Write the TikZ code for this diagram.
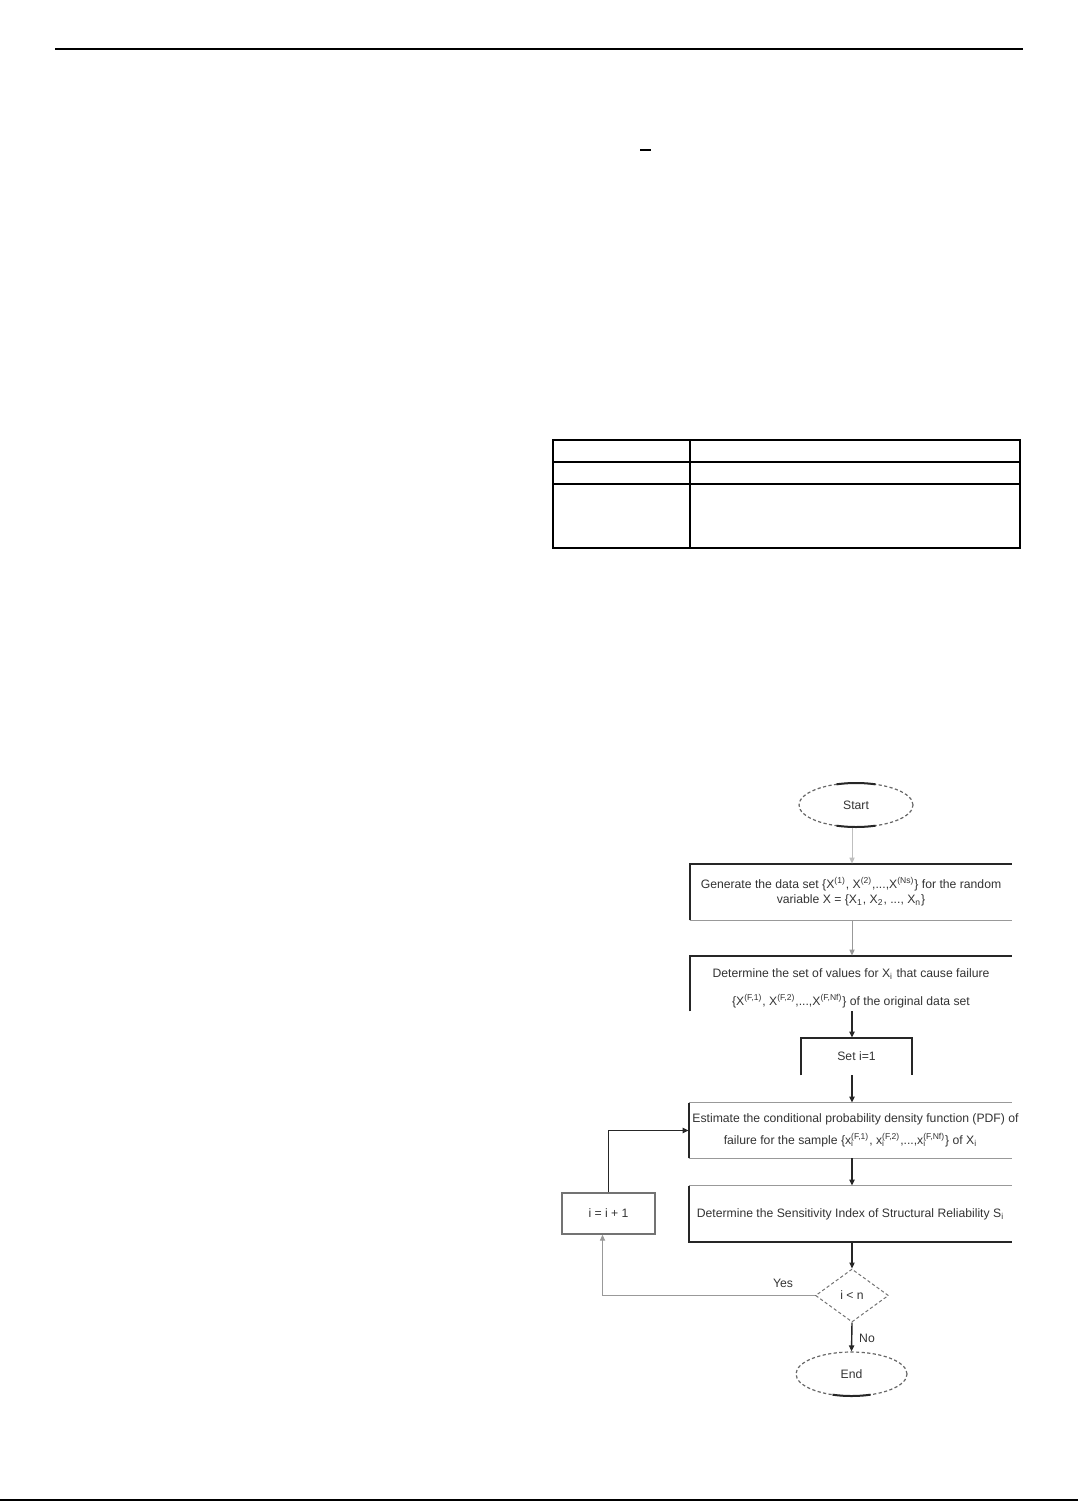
\documentclass[tikz,border=0pt]{standalone}
\usepackage{fontspec}
\setmainfont{Liberation Sans}
\usetikzlibrary{shapes.geometric,arrows.meta}
\newcommand\subsup[2]{\rlap{\textsubscript{#1}}\textsuperscript{#2}}
\tikzset{
  txt/.style={font=\fontsize{6.1}{7.5}\selectfont, text=black!80, align=center},
  boxnode/.style={txt, inner sep=0pt, minimum width=161pt},
  darkline/.style={draw=black!85, line width=1pt},
  lightline/.style={draw=black!40, line width=0.5pt},
  midline/.style={draw=black!55, line width=0.7pt},
  arr/.style={-{Triangle[length=3pt,width=2.6pt]}},
  term/.style={txt, ellipse, draw=black!60, dash pattern=on 1.6pt off 1.2pt, line width=0.6pt, inner sep=0pt},
  rule/.style={draw=black, line width=1pt},
  tabline/.style={draw=black, line width=0.55pt}
}
\begin{document}
\begin{tikzpicture}[x=0.5pt,y=-0.5pt]
\useasboundingbox (0,0) rectangle (1078,1503);
% page furniture
\draw[rule] (55,49) coordinate (hl) -- (1023,49) coordinate (hr);
\draw[rule, line width=1.4pt] (0,1500) coordinate (bl) -- (1078,1500) coordinate (br);
\draw[rule] (640,150) coordinate (d1) -- (651,150) coordinate (d2);
% table
\draw[tabline] (553,440) rectangle (1020,548);
\draw[tabline] (553,462) -- (1020,462);
\draw[tabline] (553,484) -- (1020,484);
\draw[tabline] (690,440) -- (690,548);
% axis of flow
\coordinate (axis) at (852,0);
% nodes
\node[term, minimum width=57pt, minimum height=22pt] (start) at (856,805) {Start};
\node[boxnode, minimum height=28pt] (b1) at (851,892)
  {Generate the data set \{X\textsuperscript{(1)}, X\textsuperscript{(2)},...,X\textsuperscript{(Ns)}\} for the random\\
   variable X = \{X\textsubscript{1}, X\textsubscript{2}, ..., X\textsubscript{n}\}};
\node[boxnode, minimum height=27.5pt, font=\fontsize{6.1}{14}\selectfont] (b2) at (851,988)
  {Determine the set of values for X\textsubscript{i} that cause failure\\
   \{X\textsuperscript{(F,1)}, X\textsuperscript{(F,2)},...,X\textsuperscript{(F,Nf)}\} of the original data set};
\node[txt, inner sep=0pt, minimum width=55.5pt, minimum height=18.5pt] (set) at (856.5,1056.5) {Set i=1};
\node[boxnode, minimum width=161.5pt, minimum height=27.5pt, font=\fontsize{6.1}{11}\selectfont] (b3) at (850.5,1130.5)
  {\makebox[150pt][c]{\hspace*{5pt}Estimate the conditional probability density function (PDF) of}\\
   failure for the sample \{x\subsup{i}{(F,1)}, x\subsup{i}{(F,2)},...,x\subsup{i}{(F,Nf)}\} of X\textsubscript{i}};
\node[boxnode, minimum width=161.5pt, minimum height=28pt] (b4) at (850.5,1214)
  {Determine the Sensitivity Index of Structural Reliability S\textsubscript{i}};
\node[txt, inner sep=0pt, minimum width=46.5pt, minimum height=20.5pt, midline] (inc) at (608.5,1213.5) {i = i + 1};
\node[txt, diamond, aspect=1.38, inner sep=0pt, minimum width=36.5pt, minimum height=26.5pt, draw=black!55, dash pattern=on 1.6pt off 1.2pt, line width=0.5pt] (dia) at (852,1295.5) {i {\textless} n};
\node[term, minimum width=55.5pt, minimum height=22pt] (end) at (851.5,1374) {End};
\node[txt] (yes) at (783,1283) {Yes};
\node[txt] (no) at (867,1338) {No};
% darker arcs on the terminals
\draw[darkline] (start.center) ++(70:28.5pt and 11pt) arc[start angle=70, end angle=110, x radius=28.5pt, y radius=11pt];
\draw[darkline] (start.center) ++(250:28.5pt and 11pt) arc[start angle=250, end angle=290, x radius=28.5pt, y radius=11pt];
\draw[darkline] (end.center) ++(250:27.75pt and 11pt) arc[start angle=250, end angle=290, x radius=27.75pt, y radius=11pt];
% box borders
\draw[darkline] (b1.south west) -- (b1.north west) -- (b1.north east);
\draw[lightline] (b1.south west) -- (b1.south east);
\draw[darkline] ([yshift=2.25pt]b2.south west) -- ([yshift=2.25pt]b2.north west) -- ([yshift=2.25pt]b2.north east);
\draw[darkline] (set.south west) -- (set.north west) -- (set.north east) -- (set.south east);
\draw[lightline] (b3.north west) -- (b3.north east);
\draw[darkline] (b3.south west) -- (b3.north west);
\draw[lightline] (b3.south west) -- (b3.south east);
\draw[lightline] (b4.north west) -- (b4.north east);
\draw[darkline] (b4.north west) -- (b4.south west) -- (b4.south east);
% connectors
\draw[draw=black!25, line width=0.5pt, arr] (start.south -| axis) -- (b1.north -| axis);
\draw[lightline, arr] (b1.south -| axis) -- ([yshift=2.25pt]b2.north -| axis);
\draw[darkline, line width=0.7pt, arr] ([yshift=2.25pt]b2.south -| axis) -- (set.north -| axis);
\draw[darkline, line width=0.7pt, arr] (set.south -| axis) -- (b3.north -| axis);
\draw[darkline, line width=0.7pt, arr] (b3.south -| axis) -- (b4.north -| axis);
\draw[darkline, line width=0.7pt, arr] (b4.south -| axis) -- (dia.north);
\draw[darkline, line width=0.7pt, arr] (dia.south) -- (end.north);
\draw[darkline, line width=0.8pt, arr] (inc.north) |- (b3.west);
\draw[lightline, arr] (dia.west) -| ([xshift=-3pt]inc.south);
\end{tikzpicture}
\end{document}
